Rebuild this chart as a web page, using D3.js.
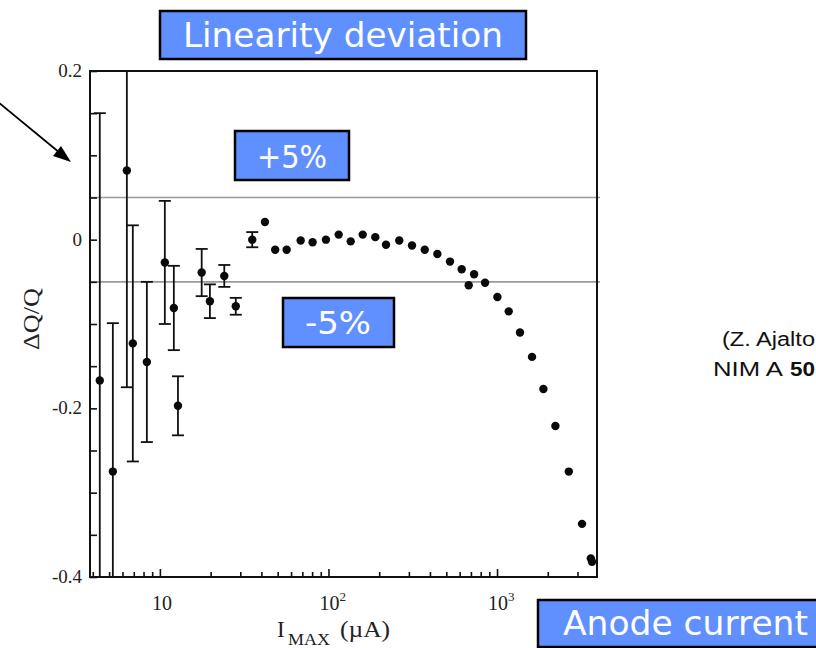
<!DOCTYPE html>
<html>
<head>
<meta charset="utf-8">
<script src="https://cdn.jsdelivr.net/npm/d3@7"></script>
<style>
  html, body { margin: 0; padding: 0; background: #fff; }
  svg { display: block; }
  .tl { font-family: "Liberation Serif", "DejaVu Serif", serif; fill: #222; }
  .box { fill: #6090ff; stroke: #000; stroke-width: 2.5; }
  .boxt { font-family: "Comic Sans MS", "DejaVu Sans", sans-serif; fill: #fff; }
  .pct { font-family: "DejaVu Sans", sans-serif; fill: #fff; }
  .cite { font-family: "Liberation Sans", Arial, sans-serif; fill: #111; }
</style>
</head>
<body>
<svg id="chart" width="816" height="648"></svg>
<script>
// I_MAX (uA), dQ/Q and symmetric error (0 = no bar)
const current = [4.4, 5.26, 6.37, 6.91, 8.37, 10.7, 12.1, 12.8, 17.7, 19.8, 24.1, 28.2, 35.3,
  42, 48.3, 56.5, 68.4, 80.5, 96.6, 115, 135.5, 159.7, 189.6, 219.5, 263, 313, 372.5, 442.6,
  526, 617, 679, 731, 849, 1005, 1173, 1368, 1613, 1884, 2219, 2665, 3193, 3600, 3660];
const deviation = [-0.167, -0.275, 0.082, -0.123, -0.145, -0.027, -0.081, -0.197, -0.039, -0.073, -0.043, -0.079, 0.000,
  0.021, -0.012, -0.012, -0.001, -0.003, 0.000, 0.006, -0.002, 0.006, 0.003, -0.006, -0.001, -0.007, -0.012, -0.017,
  -0.026, -0.035, -0.054, -0.041, -0.051, -0.068, -0.085, -0.110, -0.139, -0.177, -0.221, -0.275, -0.337, -0.378, -0.382];
const error = [0.317, 0.176, 0.257, 0.140, 0.095, 0.073, 0.050, 0.035, 0.028, 0.020, 0.013, 0.010, 0.009];

const yLabels = [0.2, 0, -0.2, -0.4];
const yMinor = d3.range(-0.4, 0.2001, 0.05);
const xDecades = [{ v: 10, exp: '' }, { v: 100, exp: '2' }, { v: 1000, exp: '3' }];
const limits = [0.05, -0.05];

const svg = d3.select('#chart');
const L = 90, R = 597, T = 71, B = 577;

const x = d3.scaleLog().domain([3.85, 3917]).range([L, R]);
const y = d3.scaleLinear().domain([-0.4, 0.2]).range([B, T]);

svg.append('defs').append('clipPath').attr('id', 'plot')
  .append('rect').attr('x', L).attr('y', T).attr('width', R - L).attr('height', B - T);

// +/- 5% lines
svg.append('g').selectAll('line').data(limits).join('line')
  .attr('x1', L).attr('x2', R + 3)
  .attr('y1', (d) => y(d)).attr('y2', (d) => y(d))
  .attr('stroke', '#9a9a9a').attr('stroke-width', 1.6);

// y ticks (inward) + labels
const yAx = svg.append('g').attr('transform', `translate(${L},0)`)
  .call(d3.axisRight(y).tickValues(yMinor).tickSize(7).tickFormat(''));
yAx.select('.domain').remove();
yAx.selectAll('line').attr('stroke', '#111').attr('stroke-width', 1.6);

svg.append('g').selectAll('text').data(yLabels).join('text')
  .attr('class', 'tl')
  .attr('x', 82).attr('y', (d) => y(d) + 6)
  .attr('text-anchor', 'end').attr('font-size', 19)
  .text((d) => (d === 0 ? '0' : String(d)));

// x ticks (inward)
const xTicks = [];
[1, 10, 100, 1000].forEach((dec) => {
  for (let k = 1; k < 10; k += 1) {
    const v = dec * k;
    if (v >= 3.85 && v <= 3917) xTicks.push(v);
  }
});
const xAx = svg.append('g').attr('transform', `translate(0,${B})`)
  .call(d3.axisTop(x).tickValues(xTicks).tickSize(5).tickFormat(''));
xAx.select('.domain').remove();
xAx.selectAll('line').attr('stroke', '#111').attr('stroke-width', 1.6)
  .filter((d) => [10, 100, 1000].includes(d)).attr('y2', -8);

const xl = svg.append('g').selectAll('text').data(xDecades).join('text')
  .attr('class', 'tl')
  .attr('x', (d) => x(d.v) + 2).attr('y', 610)
  .attr('text-anchor', 'middle').attr('font-size', 20);
xl.append('tspan').text('10');
xl.filter((d) => d.exp).append('tspan').attr('dy', -9).attr('font-size', 13)
  .text((d) => d.exp);
// keep "10" centred on tick when a superscript follows
xl.filter((d) => d.exp).attr('text-anchor', 'start').attr('x', (d) => x(d.v) - 9);

// axis titles
svg.append('text').attr('class', 'tl')
  .attr('transform', 'translate(39,319) rotate(-90)')
  .attr('text-anchor', 'middle').attr('font-size', 23)
  .attr('textLength', 62).attr('lengthAdjust', 'spacingAndGlyphs')
  .text('ΔQ/Q');

const xt = svg.append('text').attr('class', 'tl').attr('x', 277).attr('y', 637).attr('font-size', 23);
xt.append('tspan').text('I');
xt.append('tspan').attr('x', 288).attr('dy', 8).attr('font-size', 17)
  .attr('textLength', 42).attr('lengthAdjust', 'spacingAndGlyphs').text('MAX');
xt.append('tspan').attr('x', 340).attr('dy', -8)
  .attr('textLength', 50).attr('lengthAdjust', 'spacingAndGlyphs').text('(µA)');

// error bars + points
const pts = current.map((c, i) => ({ c, d: deviation[i], e: error[i] || 0 }));
const plot = svg.append('g').attr('clip-path', 'url(#plot)');
const eb = plot.append('g').selectAll('g').data(pts.filter((p) => p.e > 0)).join('g')
  .attr('stroke', '#111').attr('stroke-width', 1.8);
eb.append('line')
  .attr('x1', (p) => x(p.c)).attr('x2', (p) => x(p.c))
  .attr('y1', (p) => y(p.d + p.e)).attr('y2', (p) => y(p.d - p.e));
eb.append('line')
  .attr('x1', (p) => x(p.c) - 6).attr('x2', (p) => x(p.c) + 6)
  .attr('y1', (p) => y(p.d + p.e)).attr('y2', (p) => y(p.d + p.e));
eb.append('line')
  .attr('x1', (p) => x(p.c) - 6).attr('x2', (p) => x(p.c) + 6)
  .attr('y1', (p) => y(p.d - p.e)).attr('y2', (p) => y(p.d - p.e));

plot.append('g').selectAll('circle').data(pts).join('circle')
  .attr('cx', (p) => x(p.c)).attr('cy', (p) => y(p.d)).attr('r', 4.2)
  .attr('fill', '#0a0a0a');

// frame
svg.append('rect').attr('x', L).attr('y', T).attr('width', R - L).attr('height', B - T)
  .attr('fill', 'none').attr('stroke', '#111').attr('stroke-width', 2);

// labelled boxes
function label(bx, by, bw, bh, tx, ty, fs, tlen, txt, cls) {
  svg.append('rect').attr('class', 'box').attr('x', bx).attr('y', by).attr('width', bw).attr('height', bh);
  svg.append('text').attr('class', cls).attr('x', tx).attr('y', ty).attr('font-size', fs)
    .attr('textLength', tlen).attr('lengthAdjust', 'spacingAndGlyphs').text(txt);
}
label(160, 11, 366, 48, 183, 47, 34, 320, 'Linearity deviation', 'boxt');
label(235, 131, 114, 49, 257, 168, 32, 70, '+5%', 'pct');
label(283, 298, 111, 49, 305, 334, 32, 66, '-5%', 'pct');
label(538, 600, 300, 47, 563, 635, 34, 245, 'Anode current', 'boxt');

// arrow
svg.append('line').attr('x1', -2).attr('y1', 102).attr('x2', 60).attr('y2', 153)
  .attr('stroke', '#000').attr('stroke-width', 1.8);
svg.append('path').attr('d', 'M71,162 L53,156 L61,146 Z').attr('fill', '#000');

// citation (runs up to the page edge)
svg.append('text').attr('class', 'cite').attr('font-size', 20)
  .attr('x', 722).attr('y', 346)
  .attr('textLength', 93).attr('lengthAdjust', 'spacingAndGlyphs').text('(Z. Ajalto');
const c2 = svg.append('text').attr('class', 'cite').attr('font-size', 20)
  .attr('x', 713).attr('y', 376);
c2.append('tspan').attr('textLength', 70).attr('lengthAdjust', 'spacingAndGlyphs').text('NIM A');
c2.append('tspan').attr('x', 790).attr('font-weight', 'bold')
  .attr('textLength', 25).attr('lengthAdjust', 'spacingAndGlyphs').text('50');
</script>
</body>
</html>
